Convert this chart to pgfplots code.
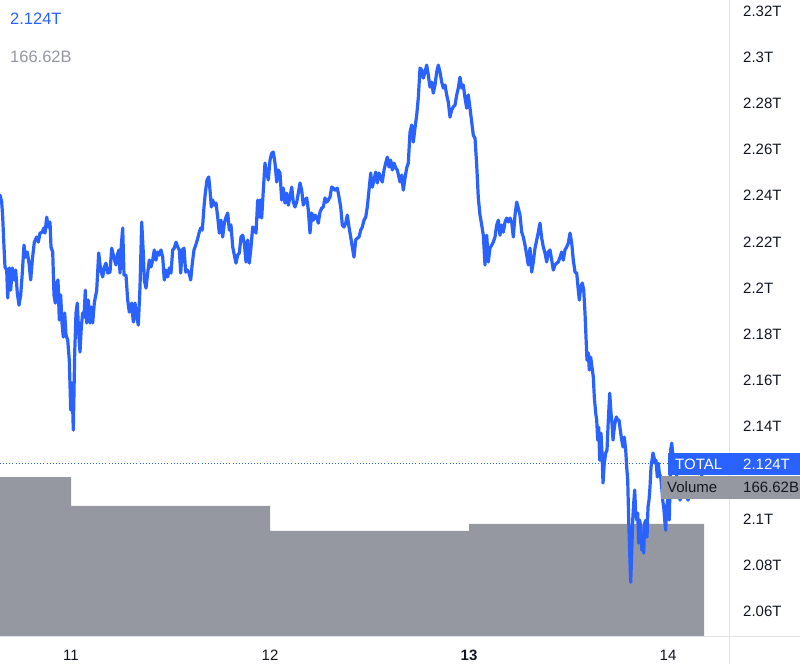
\documentclass[border=0pt]{standalone}
\usepackage{pgfplots}
\pgfplotsset{compat=1.18}
\usepackage{fontspec}
\setmainfont{Liberation Sans}
\definecolor{tvblue}{RGB}{41,98,255}
\definecolor{volgray}{RGB}{149,152,161}
\definecolor{tvtext}{RGB}{19,23,34}
\definecolor{tvline}{RGB}{224,227,235}
\begin{document}
\begin{tikzpicture}
% volume (own scale, billions)
\begin{axis}[
    at={(0pt,0pt)}, anchor=south west,
    scale only axis, width=729pt, height=636pt,
    xmin=0, xmax=729, ymin=0, ymax=946,
    hide axis,
]
\addplot[const plot mark left, fill=volgray, draw=none] coordinates {
    (0,236.5) (71,193.4) (270,156.2) (469,166.6) (704,166.6)
} \closedcycle;
\end{axis}
% price (trillions); x = sample index, days at 71, 270, 469, 668
\begin{axis}[
    at={(0pt,0pt)}, anchor=south west,
    scale only axis, width=729pt, height=636pt,
    xmin=0, xmax=729, ymin=2.0494, ymax=2.3247,
    axis line style={draw=none}, tick style={draw=none},
    major tick length=0pt,
    xtick={71,270,469,668}, xticklabels={11,12,\textbf{13},14},
    ytick={2.06,2.08,2.1,2.14,2.16,2.18,2.2,2.22,2.24,2.26,2.28,2.3,2.32},
    yticklabels={2.06T,2.08T,2.1T,2.14T,2.16T,2.18T,2.2T,2.22T,2.24T,2.26T,2.28T,2.3T,2.32T},
    ytick pos=right, yticklabel pos=right,
    yticklabel style={anchor=west, inner sep=0pt, xshift=14pt, font=\fontsize{15}{15}\selectfont, text=tvtext},
    xticklabel style={anchor=center, inner sep=0pt, yshift=-19pt, font=\fontsize{15}{15}\selectfont, text=tvtext},
    clip=false,
]
\addplot[tvblue, line width=0.9pt, dash pattern=on 0.9pt off 2.2pt, forget plot] coordinates {(0,2.124) (668,2.124)};
\addplot[tvblue, line width=3.2pt, line join=round, line cap=round, mark=none] coordinates {
(0,2.2403) (1.7,2.2372) (2.7,2.2307) (4,2.2178) (5,2.2091) (6.7,2.2078) (7.7,2.1957) (9.3,2.2087)
(10.7,2.1991) (12.3,2.2087) (14,2.2035) (15.7,2.2078) (17.3,2.1978) (19,2.1926) (20.7,2.1970)
(22.3,2.2065) (24,2.2186) (25.7,2.2134) (27.3,2.2156) (29,2.2108) (30.7,2.2035) (32.3,2.2121)
(34.3,2.2199) (36.7,2.2221) (38.3,2.2199) (40,2.2238) (42.3,2.2242) (43.7,2.2260) (45,2.2238)
(46.7,2.2307) (48.3,2.2264) (50,2.2286) (51,2.2178) (52.7,2.2156) (54,2.1970) (55.3,2.1935)
(56.7,2.2022) (58,2.2035) (59.3,2.1862) (60.7,2.1970) (62,2.1849) (63.3,2.1788) (64.7,2.1892)
(66,2.1797) (67.7,2.1775) (69.3,2.1688) (70.7,2.1472) (72,2.1589) (73.3,2.1385) (74.7,2.1719)
(76,2.1892) (77.3,2.1935) (78.7,2.1805) (80,2.1723) (81.3,2.1831) (82.7,2.1892) (84,2.1874)
(85.3,2.1991) (86.7,2.1849) (88.3,2.1948) (90,2.1849) (91.3,2.1918) (92.7,2.1849) (94.3,2.1935)
(96.7,2.1991) (98.7,2.2152) (100.7,2.2078) (102.7,2.2048) (104.3,2.2091) (106,2.2108) (107.7,2.2065)
(110,2.2069) (111.7,2.2173) (114,2.2130) (116,2.2100) (117.3,2.2143) (119,2.2165) (120,2.2065)
(121.3,2.2186) (122.7,2.2260) (124,2.2056) (126,2.2056) (127.7,2.1948) (129.3,2.1896) (131.7,2.1935)
(133.3,2.1853) (135,2.1935) (136.7,2.1874) (138.3,2.1840)
(140,2.2004) (141.7,2.2286) (143.3,2.2152) (144.3,2.2035) (146,2.2000) (147.7,2.2065) (149.3,2.2121)
(151,2.2091) (152.7,2.2121) (154.3,2.2165) (156,2.2121) (157.7,2.2156) (159.3,2.2143) (161,2.2165)
(162.7,2.2134) (164.3,2.2035) (166,2.2078) (167.7,2.2048) (169.3,2.2087) (171,2.2065) (172.7,2.2165)
(174.3,2.2173) (176,2.2199) (177.7,2.2178) (179.3,2.2165) (180.7,2.2065) (182.3,2.2165) (184,2.2173)
(185.7,2.2069) (187.3,2.2078) (189,2.2065) (190.7,2.2035) (192.3,2.2108) (194,2.2165) (195.7,2.2186)
(197.3,2.2208) (199,2.2238) (200.7,2.2260) (202.3,2.2251) (204,2.2351) (205.3,2.2411) (207,2.2468)
(208.7,2.2481) (210,2.2424) (211.3,2.2351) (212.7,2.2381) (214.3,2.2359) (216,2.2368) (217.7,2.2307)
(219.3,2.2238) (221,2.2294) (222.7,2.2221) (224.3,2.2281) (226,2.2307) (227.7,2.2325) (229.3,2.2251)
(231,2.2273) (232.7,2.2178) (234.3,2.2143) (236,2.2108) (237.7,2.2143) (239.3,2.2152) (241,2.2221)
(242.7,2.2229) (244.3,2.2195) (246,2.2113) (247.7,2.2208) (249.3,2.2108) (251,2.2178) (252.7,2.2264)
(254.3,2.2260) (256,2.2238) (257.7,2.2381) (259.3,2.2307)
(260,2.2381) (261.7,2.2303) (263.3,2.2424) (265,2.2541) (266.7,2.2498) (268.3,2.2468) (270,2.2554)
(271.7,2.2584) (273.3,2.2589) (275,2.2541) (276.7,2.2459) (278.3,2.2511) (280,2.2498) (281.7,2.2381)
(283.3,2.2433) (285,2.2368) (286.7,2.2411) (288.3,2.2359) (290,2.2394) (291.7,2.2437) (293.3,2.2372)
(295,2.2351) (296.7,2.2372) (298.3,2.2411) (300,2.2455) (301.7,2.2424) (303.3,2.2359) (305,2.2381)
(306.7,2.2390) (308.3,2.2338) (310,2.2238) (311.7,2.2325) (313.3,2.2294) (315,2.2316) (316.7,2.2307)
(318.3,2.2281) (320,2.2329) (321.7,2.2346) (323.3,2.2351) (325,2.2390) (326.7,2.2372) (328.3,2.2381)
(330,2.2394) (331.7,2.2437) (333.3,2.2433) (335,2.2424) (337.3,2.2433) (339,2.2394) (340.7,2.2351)
(342.3,2.2273) (344,2.2264) (345.7,2.2281) (347.3,2.2316) (349,2.2264) (350.7,2.2221) (352.3,2.2178)
(354,2.2134) (355.7,2.2208) (357.3,2.2216) (359,2.2221) (360.7,2.2251) (362.3,2.2264) (364,2.2294)
(365.7,2.2307) (367.3,2.2351) (369,2.2424) (370.7,2.2498) (372.3,2.2437) (374,2.2468) (375.7,2.2502)
(377.3,2.2455) (379,2.2498) (380.7,2.2476) (382.3,2.2459) (384,2.2511) (385.7,2.2541) (387.3,2.2567)
(389,2.2524) (390.7,2.2554) (392.3,2.2511) (394,2.2541) (395.7,2.2520) (397.3,2.2511)
(400,2.2459) (401.7,2.2489) (403.3,2.2424) (405,2.2476) (406.7,2.2520) (408.3,2.2541) (410,2.2675)
(411.7,2.2706) (413.3,2.2632) (415,2.2693) (416.7,2.2749) (418.3,2.2823) (420,2.2952) (421.7,2.2944)
(423.3,2.2909) (425,2.2935) (426.7,2.2965) (428.3,2.2922) (430,2.2870) (431.7,2.2892) (433.3,2.2844)
(435,2.2879) (436.7,2.2935) (438.3,2.2965) (440,2.2935) (441.7,2.2892) (443.3,2.2866) (445,2.2879)
(446.7,2.2836) (448.3,2.2805) (450,2.2740) (451.7,2.2771) (453.3,2.2784) (455,2.2792) (456.7,2.2836)
(458.3,2.2866) (460,2.2913) (461.7,2.2866) (463.3,2.2879) (465,2.2823) (466.7,2.2779) (468.3,2.2836)
(470,2.2779) (471.7,2.2719) (473.3,2.2662) (475,2.2649) (476.7,2.2532) (478.3,2.2390) (480,2.2316)
(481.7,2.2273) (483.3,2.2229) (485,2.2100) (486.7,2.2229) (488.3,2.2113) (490,2.2173) (491.7,2.2186)
(493.3,2.2199) (495,2.2221) (496.7,2.2273) (498.3,2.2294) (500,2.2229) (501.7,2.2273) (503.3,2.2242)
(505,2.2286) (506.7,2.2303) (508.3,2.2286) (510,2.2303) (511.7,2.2286) (513.3,2.2221) (515,2.2316)
(516.7,2.2372) (518.3,2.2346) (520,2.2316) (521.7,2.2242) (523.3,2.2221) (525,2.2186) (526.7,2.2143)
(528.3,2.2100) (530,2.2173) (531.7,2.2069) (533.3,2.2113) (535,2.2173) (536.7,2.2208) (538.3,2.2242)
(540,2.2281) (541.7,2.2216)
(543.3,2.2178) (545,2.2152) (546.7,2.2113) (548.3,2.2156) (550,2.2165) (551.7,2.2121) (553.3,2.2078)
(555,2.2100) (556.7,2.2108) (558.3,2.2113) (560,2.2134) (561.7,2.2156) (563.3,2.2121) (565,2.2165)
(566.7,2.2178) (568.3,2.2195) (570,2.2238) (571.7,2.2195) (573.3,2.2121) (575,2.2069) (576.7,2.2065)
(578.3,2.1991) (579.3,2.1948) (580.7,2.2004) (582.3,2.2022) (583.7,2.1991) (585,2.1892) (586,2.1788)
(587,2.1688) (588.3,2.1719) (589.3,2.1645) (590.7,2.1701) (592,2.1658) (593.3,2.1615) (594.3,2.1528)
(595.7,2.1459) (596.7,2.1429) (597.7,2.1342) (598.7,2.1398) (599.7,2.1255) (601,2.1372) (602,2.1286)
(603,2.1156) (604.3,2.1242) (605.7,2.1286) (607,2.1299) (608.3,2.1429) (609.7,2.1545) (611,2.1459)
(612,2.1416) (613,2.1342) (614,2.1385) (615,2.1416) (616.3,2.1442) (617.7,2.1429) (619,2.1429)
(620.3,2.1385) (621.7,2.1342) (623,2.1312) (624.3,2.1355) (625.7,2.1299) (626.7,2.1225) (627.7,2.1169)
(628.7,2.0996) (629.7,2.0853) (630.7,2.0727) (631.7,2.0853) (632.7,2.0996) (633.7,2.1069) (634.7,2.1126)
(635.7,2.1026) (636.7,2.0996) (637.7,2.1026) (638.7,2.0896) (639.7,2.0996) (640.7,2.0965) (641.7,2.0866)
(642.7,2.0909) (643.7,2.0853) (644.7,2.0983) (646,2.0996) (647,2.0922) (648,2.1052) (649,2.1082)
(650,2.1139) (651,2.1225) (652,2.1255) (653,2.1286) (654,2.1268) (655,2.1242) (656,2.1255)
(657.3,2.1182) (658.3,2.1242) (659.3,2.1199) (660.7,2.1182) (661.7,2.1139) (662.7,2.1082) (663.7,2.1052)
(664.7,2.0996) (665.7,2.0952) (666.7,2.1052) (668,2.1095) (669.3,2.0996) (670.7,2.1299) (671.7,2.1329)
(672.7,2.1286) (676,2.1212) (680,2.1082) (684,2.1126) (688,2.1082) (692,2.1147) (696,2.1126)
(699,2.1095) (703,2.1238)
};
% header values, top left
\node[anchor=west, inner sep=0pt, text=tvblue, font=\fontsize{16.5}{16.5}\selectfont] at (rel axis cs:0.0137,0.9701) {2.124T};
\node[anchor=west, inner sep=0pt, text=volgray, font=\fontsize{16.5}{16.5}\selectfont] at (rel axis cs:0.0137,0.9104) {166.62B};
\end{axis}
% frame lines of the price scale and time scale
\draw[tvline, line width=1pt] (0pt,0pt) -- (800pt,0pt);
\draw[tvline, line width=1pt] (729pt,-28pt) -- (729pt,636pt);
% last value labels on the price scale
\fill[tvblue] (668pt,161pt) rectangle (800pt,183pt);
\fill[volgray] (661pt,137pt) rectangle (800pt,160pt);
\node[anchor=west, inner sep=0pt, text=white, font=\fontsize{15}{15}\selectfont] at (675pt,172pt) {TOTAL};
\node[anchor=west, inner sep=0pt, text=white, font=\fontsize{15}{15}\selectfont] at (743pt,172pt) {2.124T};
\node[anchor=west, inner sep=0pt, text=tvtext, font=\fontsize{15}{15}\selectfont] at (667pt,148.5pt) {Volume};
\node[anchor=west, inner sep=0pt, text=tvtext, font=\fontsize{15}{15}\selectfont] at (743pt,148.5pt) {166.62B};
\pgfresetboundingbox
\path[use as bounding box] (0pt,-28pt) rectangle (800pt,636pt);
\end{tikzpicture}
\end{document}
